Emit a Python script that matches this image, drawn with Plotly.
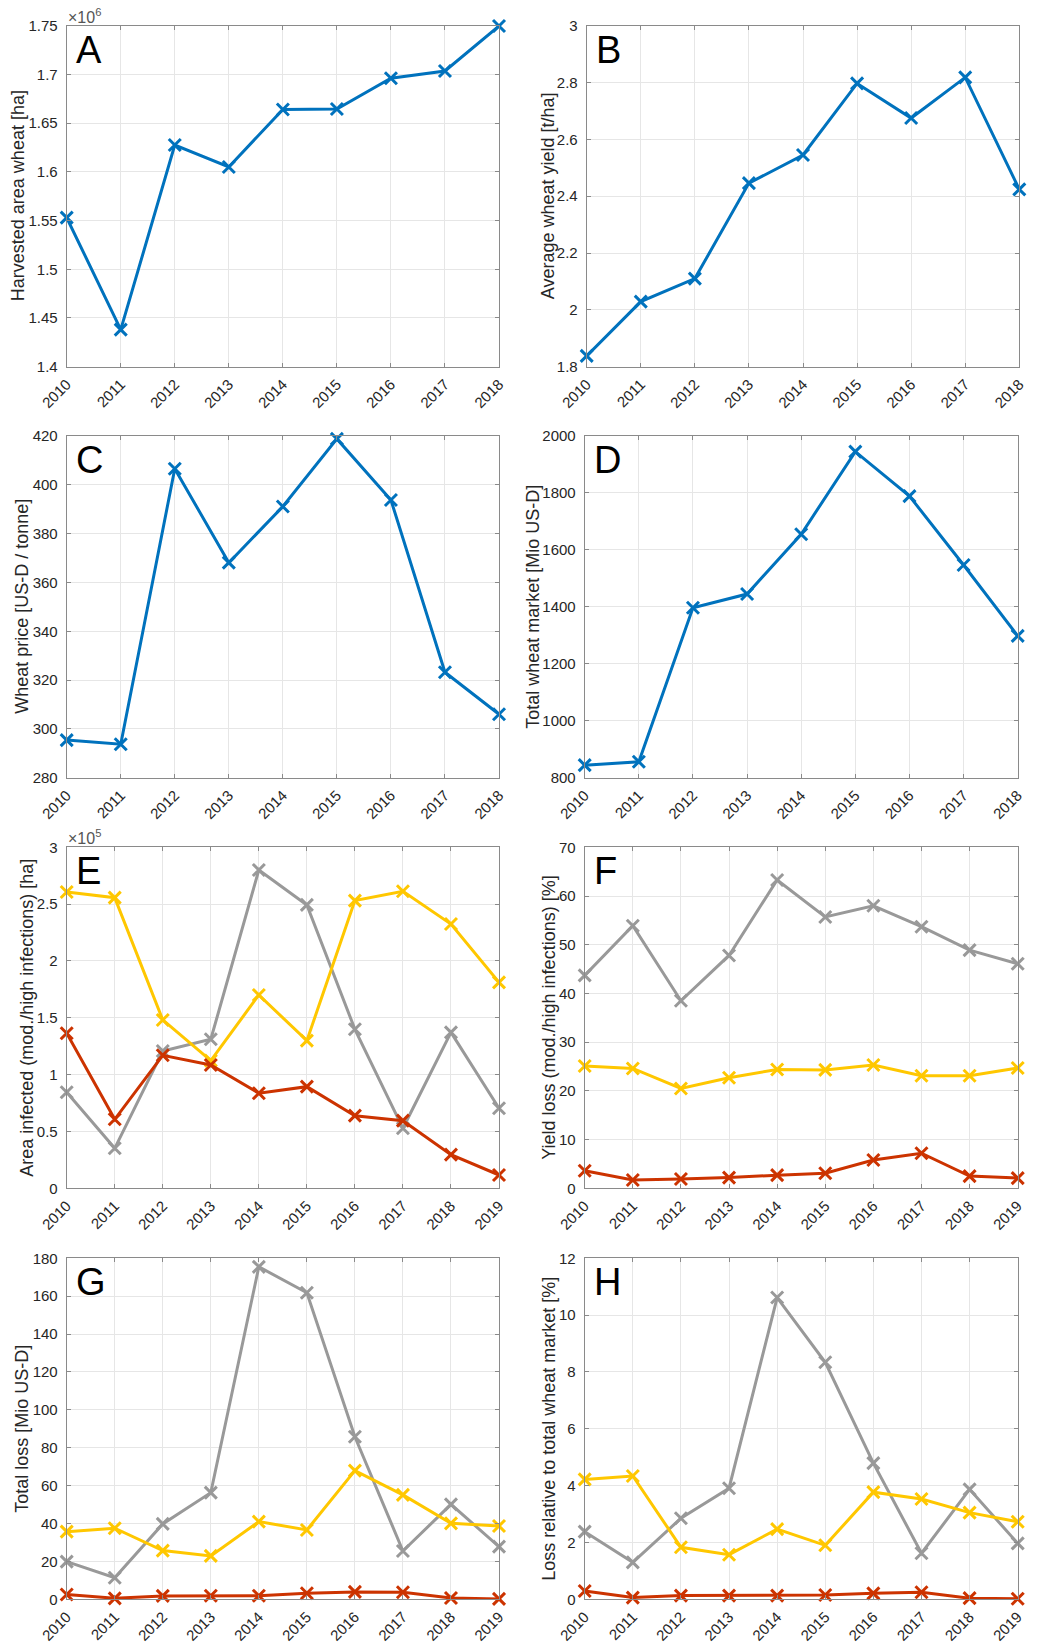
import plotly.graph_objects as go

# ---- data ----
years_a = [2010, 2011, 2012, 2013, 2014, 2015, 2016, 2017, 2018]
years_e = [2010, 2011, 2012, 2013, 2014, 2015, 2016, 2017, 2018, 2019]

harvested_area_ha = [1553000, 1438000, 1627500, 1605000, 1664000, 1664500, 1696000, 1703500, 1749700]
avg_yield_t_ha = [1.838, 2.029, 2.110, 2.446, 2.545, 2.797, 2.675, 2.818, 2.424]
price_usd_t = [295.4, 293.7, 406.6, 368.1, 391.1, 418.8, 393.8, 323.2, 306.0]
market_mio_usd = [844, 856, 1397, 1445, 1655, 1945, 1789, 1547, 1298]

area_inf_gray = [84500, 35200, 120800, 131100, 280000, 249300, 139900, 52800, 137200, 70400]
area_inf_yellow = [260700, 255700, 148100, 112300, 170100, 129900, 253100, 261300, 232500, 181200]
area_inf_red = [136400, 60700, 117000, 108500, 83600, 89400, 63900, 59500, 29600, 11700]

yloss_gray = [43.7, 53.9, 38.5, 47.8, 63.3, 55.7, 58.0, 53.7, 48.9, 46.1]
yloss_yellow = [25.1, 24.6, 20.5, 22.7, 24.4, 24.3, 25.3, 23.1, 23.1, 24.7]
yloss_red = [3.6, 1.7, 1.9, 2.2, 2.7, 3.1, 5.8, 7.2, 2.5, 2.1]

tloss_gray = [19.9, 11.4, 39.8, 56.3, 175.5, 161.8, 85.8, 25.5, 50.1, 27.8]
tloss_yellow = [35.7, 37.5, 25.7, 22.9, 41.0, 36.6, 67.9, 55.1, 40.1, 38.7]
tloss_red = [2.5, 0.5, 1.8, 1.9, 1.9, 3.2, 3.9, 3.7, 0.7, 0.2]

rel_gray = [2.38, 1.30, 2.85, 3.91, 10.62, 8.34, 4.79, 1.62, 3.87, 1.97]
rel_yellow = [4.22, 4.34, 1.83, 1.57, 2.47, 1.90, 3.77, 3.53, 3.05, 2.73]
rel_red = [0.29, 0.06, 0.13, 0.13, 0.13, 0.15, 0.21, 0.25, 0.04, 0.02]

BLUE = "#0072BD"
GRAY = "#999999"
YELLOW = "#FFC700"
RED = "#CC3300"

W, H = 1043, 1646
FONT = "Liberation Sans, Arial, sans-serif"
TXT = "#262626"

# plot-area boxes in pixels: (left, right, top, bottom)
boxes = {
    "A": (66.7, 499.0, 25.7, 366.7),
    "B": (586.7, 1019.3, 25.7, 366.7),
    "C": (66.7, 499.0, 436.0, 777.7),
    "D": (584.7, 1017.7, 436.0, 777.7),
    "E": (66.7, 499.0, 847.3, 1188.3),
    "F": (584.7, 1017.7, 847.3, 1188.3),
    "G": (66.7, 499.0, 1258.3, 1599.3),
    "H": (584.7, 1017.7, 1258.3, 1599.3),
}
# x position (pixels) of each y-axis title centre
ytitle_x = {"A": 18, "B": 548, "C": 22, "D": 533, "E": 27, "F": 549, "G": 22, "H": 549}

panels = [
    dict(key="A", years=years_a,
         series=[([v / 1e6 for v in harvested_area_ha], BLUE)],
         yrange=[1.4, 1.75],
         ticks=[1.4, 1.45, 1.5, 1.55, 1.6, 1.65, 1.7, 1.75],
         ticktext=["1.4", "1.45", "1.5", "1.55", "1.6", "1.65", "1.7", "1.75"],
         title="Harvested area wheat [ha]", expo="6"),
    dict(key="B", years=years_a,
         series=[(avg_yield_t_ha, BLUE)],
         yrange=[1.8, 3.0],
         ticks=[1.8, 2.0, 2.2, 2.4, 2.6, 2.8, 3.0],
         ticktext=["1.8", "2", "2.2", "2.4", "2.6", "2.8", "3"],
         title="Average wheat yield [t/ha]"),
    dict(key="C", years=years_a,
         series=[(price_usd_t, BLUE)],
         yrange=[280, 420],
         ticks=list(range(280, 421, 20)),
         title="Wheat price [US-D / tonne]"),
    dict(key="D", years=years_a,
         series=[(market_mio_usd, BLUE)],
         yrange=[800, 2000],
         ticks=list(range(800, 2001, 200)),
         title="Total wheat market [Mio US-D]"),
    dict(key="E", years=years_e,
         series=[([v / 1e5 for v in area_inf_gray], GRAY),
                 ([v / 1e5 for v in area_inf_yellow], YELLOW),
                 ([v / 1e5 for v in area_inf_red], RED)],
         yrange=[0, 3],
         ticks=[0, 0.5, 1, 1.5, 2, 2.5, 3],
         ticktext=["0", "0.5", "1", "1.5", "2", "2.5", "3"],
         title="Area infected (mod./high infections) [ha]", expo="5"),
    dict(key="F", years=years_e,
         series=[(yloss_gray, GRAY), (yloss_yellow, YELLOW), (yloss_red, RED)],
         yrange=[0, 70],
         ticks=list(range(0, 71, 10)),
         title="Yield loss (mod./high infections) [%]"),
    dict(key="G", years=years_e,
         series=[(tloss_gray, GRAY), (tloss_yellow, YELLOW), (tloss_red, RED)],
         yrange=[0, 180],
         ticks=list(range(0, 181, 20)),
         title="Total loss [Mio US-D]"),
    dict(key="H", years=years_e,
         series=[(rel_gray, GRAY), (rel_yellow, YELLOW), (rel_red, RED)],
         yrange=[0, 12],
         ticks=list(range(0, 13, 2)),
         title="Loss relative to total wheat market [%]"),
]

fig = go.Figure()
layout = dict(
    template="none",
    width=W, height=H,
    margin=dict(l=0, r=0, t=0, b=0, pad=0),
    paper_bgcolor="white", plot_bgcolor="white",
    showlegend=False,
    font=dict(family=FONT, color=TXT, size=15),
)
annotations = []

axis_common = dict(
    automargin=False,
    showline=True, linecolor="#8a8a8a", linewidth=1, mirror="ticks",
    ticks="inside", ticklen=4, tickcolor="#8a8a8a", tickwidth=1,
    showgrid=True, gridcolor="#e6e6e6", gridwidth=1,
    zeroline=False,
    tickfont=dict(family=FONT, size=15, color=TXT),
)

for i, p in enumerate(panels, start=1):
    sfx = "" if i == 1 else str(i)
    xname, yname = "x" + sfx, "y" + sfx
    l, r, t, b = boxes[p["key"]]
    years = p["years"]

    for vals, col in p["series"]:
        fig.add_trace(go.Scatter(
            x=years, y=vals, mode="lines+markers",
            xaxis=xname, yaxis=yname, cliponaxis=False,
            line=dict(color=col, width=3),
            marker=dict(symbol="x-thin", size=12, color=col,
                        line=dict(color=col, width=3)),
        ))

    layout["xaxis" + sfx] = dict(
        axis_common,
        domain=[l / W, r / W], anchor=yname,
        range=[years[0], years[-1]],
        tickvals=years, ticktext=[str(y) for y in years],
        tickangle=-45, ticklabelstandoff=2,
    )
    yax = dict(
        axis_common,
        domain=[1 - b / H, 1 - t / H], anchor=xname,
        range=p["yrange"], tickvals=p["ticks"],
        ticklabelstandoff=5,
    )
    if "ticktext" in p:
        yax["ticktext"] = p["ticktext"]
    layout["yaxis" + sfx] = yax

    # panel letter
    annotations.append(dict(
        text=p["key"], xref=xname + " domain", yref=yname + " domain",
        x=0, y=1, xanchor="left", yanchor="top", xshift=7, yshift=-1,
        showarrow=False, font=dict(family=FONT, size=38, color="black"),
    ))
    # y-axis title
    annotations.append(dict(
        text=p["title"], xref="paper", yref=yname + " domain",
        x=ytitle_x[p["key"]] / W, y=0.5, xanchor="center", yanchor="middle",
        textangle=-90, showarrow=False,
        font=dict(family=FONT, size=18, color=TXT),
    ))
    # exponent marker above the y axis
    if "expo" in p:
        annotations.append(dict(
            text="×10<sup>" + p["expo"] + "</sup>", xref=xname + " domain",
            yref=yname + " domain", x=0, y=1, xanchor="left", yanchor="bottom",
            xshift=-1, yshift=-2, showarrow=False,
            font=dict(family=FONT, size=16, color="#555555"),
        ))

layout["annotations"] = annotations
fig.update_layout(**layout)
fig.write_html("out.html")
